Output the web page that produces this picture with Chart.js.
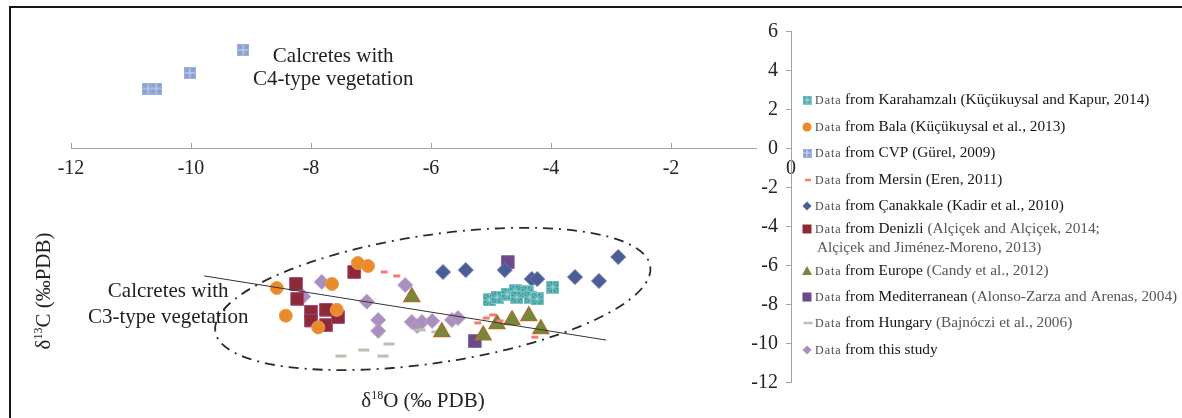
<!DOCTYPE html>
<html>
<head>
<meta charset="utf-8">
<script src="https://cdn.jsdelivr.net/npm/chart.js@4.4.0/dist/chart.umd.min.js"></script>
<style>
  html, body { margin: 0; padding: 0; background: #fff; }
  #wrap { position: relative; width: 1182px; height: 418px; overflow: hidden; }
  #frame { position: absolute; left: 9px; top: 6px; width: 1200px; height: 430px;
           border-left: 2.5px solid #151515; border-top: 2.5px solid #151515; pointer-events: none; }
  canvas { position: absolute; left: 0; top: 0; }
</style>
</head>
<body>
<div id="wrap">
  <canvas id="chart" width="1182" height="418"></canvas>
  <div id="frame"></div>
</div>
<script>
// d18O (x) and d13C (y) values, per source
const karaX = [-5.03, -4.9, -4.73, -4.6, -4.57, -4.4, -4.35, -4.23, -3.97];
const karaY = [-7.79, -7.65, -7.49, -7.33, -7.65, -7.38, -7.65, -7.74, -7.13];
const balaX = [-8.57, -8.42, -7.88, -7.65, -7.57, -7.22, -7.05];
const balaY = [-7.18, -8.6, -9.2, -6.97, -8.3, -5.9, -6.05];
const cvpX = [-10.72, -10.58, -10.02, -9.13];
const cvpY = [3.05, 3.05, 3.85, 5.03];
const mersinX = [-6.78, -6.57, -5.22, -5.08, -4.97, -4.85, -4.27];
const mersinY = [-6.36, -6.56, -8.97, -8.72, -8.56, -8.87, -9.7];
const canakX = [-5.8, -5.42, -4.77, -4.32, -4.23, -3.6, -3.2, -2.88];
const canakY = [-6.36, -6.26, -6.26, -6.72, -6.72, -6.62, -6.82, -5.59];
const denizliX = [-8.25, -8.23, -8.0, -8.0, -7.75, -7.75, -7.55, -7.28];
const denizliY = [-6.97, -7.74, -8.4, -8.85, -8.3, -9.08, -8.67, -6.36];
const europeX = [-6.32, -5.82, -5.13, -4.9, -4.65, -4.37, -4.17];
const europeY = [-7.64, -9.43, -9.6, -9.03, -8.82, -8.62, -9.28];
const mediX = [-4.72, -5.27];
const mediY = [-5.85, -9.9];
const hungX = [-7.5, -7.12, -6.8, -6.7, -6.18, -5.9];
const hungY = [-10.67, -10.36, -10.67, -10.05, -9.33, -9.43];
const studyX = [-7.82, -8.13, -7.07, -6.88, -6.88, -6.43, -6.32, -6.23, -6.15, -5.98, -5.65, -5.55];
const studyY = [-6.87, -7.62, -7.88, -8.82, -9.38, -7.03, -8.92, -9.13, -8.92, -8.87, -8.82, -8.72];

// regression line end points and C3 envelope (centre, end of major axis, minor radius in d13C units)
const trendX = [-9.78, -3.08];
const trendY = [-6.56, -9.85];
const ellipseCenter = [-5.97, -7.74];
const ellipseEnd = [-2.345, -6.07];
const ellipseMinor = 3.28;

const xTicks = [-12, 0, 2];   // min, max, step
const yTicks = [-12, 6, 2];

const legendPlace = ['from Karahamzalı', 'from Bala', 'from CVP', 'from Mersin', 'from Çanakkale',
  'from Denizli', 'from Europe', 'from Mediterranean', 'from Hungary', 'from this study'];
const legendRef = ['(Küçükuysal and Kapur, 2014)', '(Küçükuysal et al., 2013)', '(Gürel, 2009)',
  '(Eren, 2011)', '(Kadir et al., 2010)', '(Alçiçek and Alçiçek, 2014;', '(Candy et al., 2012)',
  '(Alonso-Zarza and Arenas, 2004)', '(Bajnóczi et al., 2006)', ''];
const legendRef2 = 'Alçiçek and Jiménez-Moreno, 2013)';

const SERIF = '"Liberation Serif", "Times New Roman", serif';

function pts(xs, ys) {
  return xs.map((v, i) => ({x: v, y: ys[i]}));
}

function squareImg(size, fill, border, line, pattern) {
  const c = document.createElement('canvas');
  c.width = size; c.height = size;
  const g = c.getContext('2d');
  g.fillStyle = fill;
  g.fillRect(0, 0, size, size);
  g.strokeStyle = line;
  g.lineWidth = 1;
  const m = size / 2;
  g.beginPath();
  g.moveTo(m, 1); g.lineTo(m, size - 1);
  g.moveTo(1, m); g.lineTo(size - 1, m);
  if (pattern === 'star') {
    g.moveTo(2, 2); g.lineTo(size - 2, size - 2);
    g.moveTo(size - 2, 2); g.lineTo(2, size - 2);
  }
  g.stroke();
  g.strokeStyle = border;
  g.strokeRect(0.5, 0.5, size - 1, size - 1);
  return c;
}

const karaImg = squareImg(13, '#3f9fa2', '#86c9c9', '#8fd2d0', 'star');
const karaSmall = squareImg(9, '#3f9fa2', '#86c9c9', '#8fd2d0', 'star');
const cvpImg = squareImg(12, '#8ba1d2', '#9fb2dc', '#d2dcf0', 'plus');
const cvpSmall = squareImg(9, '#8ba1d2', '#9fb2dc', '#d2dcf0', 'plus');

const datasets = [
  {label: 'Karahamzalı', data: pts(karaX, karaY), pointStyle: karaImg, small: karaSmall},
  {label: 'Bala', data: pts(balaX, balaY), pointStyle: 'circle', pointRadius: 6.5,
    backgroundColor: '#e98a2c', borderColor: '#ee9a48', borderWidth: 1},
  {label: 'CVP', data: pts(cvpX, cvpY), pointStyle: cvpImg, small: cvpSmall},
  {label: 'Mersin', data: pts(mersinX, mersinY), pointStyle: 'line', pointRadius: 3.5,
    backgroundColor: '#f07f70', borderColor: '#f07f70', borderWidth: 3},
  {label: 'Çanakkale', data: pts(canakX, canakY), pointStyle: 'rectRot', pointRadius: 7.5,
    backgroundColor: '#4c5c95', borderColor: '#6676ae', borderWidth: 1},
  {label: 'Denizli', data: pts(denizliX, denizliY), pointStyle: 'rect', pointRadius: 9,
    backgroundColor: '#8c2b37', borderColor: '#a5487f', borderWidth: 1},
  {label: 'Europe', data: pts(europeX, europeY), pointStyle: 'triangle', pointRadius: 9,
    backgroundColor: '#728a3a', borderColor: '#a4702c', borderWidth: 1.5},
  {label: 'Mediterranean', data: pts(mediX, mediY), pointStyle: 'rect', pointRadius: 9,
    backgroundColor: '#6a4a88', borderColor: '#8465a2', borderWidth: 1},
  {label: 'Hungary', data: pts(hungX, hungY), pointStyle: 'line', pointRadius: 5.5,
    backgroundColor: '#bcc0ae', borderColor: '#bcc0ae', borderWidth: 3},
  {label: 'this study', data: pts(studyX, studyY), pointStyle: 'rectRot', pointRadius: 7.5,
    backgroundColor: '#a98fbd', borderColor: '#b9a2cb', borderWidth: 1},
  {label: 'trend', type: 'line', data: pts(trendX, trendY), borderColor: '#333', borderWidth: 1,
    pointRadius: 0, showLine: true, fill: false, order: -1}
];

function rich(ctx, parts, x, y) {
  let w = 0;
  parts.forEach(p => { ctx.font = p[1] + 'px ' + SERIF; w += ctx.measureText(p[0]).width; });
  let cx = x - w / 2;
  parts.forEach(p => {
    ctx.font = p[1] + 'px ' + SERIF;
    ctx.fillText(p[0], cx, y - (p[2] || 0));
    cx += ctx.measureText(p[0]).width;
  });
}

function legendMarker(ctx, ds, x, y) {
  const s = ds.pointStyle;
  ctx.save();
  ctx.fillStyle = ds.backgroundColor;
  ctx.strokeStyle = ds.borderColor;
  ctx.lineWidth = 1;
  ctx.beginPath();
  if (typeof s !== 'string') {
    ctx.drawImage(ds.small, x - 4.5, y - 4.5);
  } else if (s === 'circle') {
    ctx.arc(x, y, 4.5, 0, Math.PI * 2); ctx.fill();
  } else if (s === 'rect') {
    ctx.rect(x - 4.5, y - 4.5, 9, 9); ctx.fill();
  } else if (s === 'rectRot') {
    ctx.moveTo(x, y - 4.5); ctx.lineTo(x + 4.5, y); ctx.lineTo(x, y + 4.5); ctx.lineTo(x - 4.5, y);
    ctx.closePath(); ctx.fill();
  } else if (s === 'triangle') {
    ctx.moveTo(x, y - 5); ctx.lineTo(x + 5, y + 4); ctx.lineTo(x - 5, y + 4);
    ctx.closePath(); ctx.fill();
  } else if (s === 'line') {
    const h = ds.pointRadius > 4 ? 4.5 : 3;
    ctx.lineWidth = 2.5;
    ctx.moveTo(x - h + 1, y); ctx.lineTo(x + h + 1, y); ctx.stroke();
  }
  ctx.restore();
}

const decor = {
  id: 'decor',
  beforeDatasetsDraw(chart) {
    const {ctx, scales: {x, y}} = chart;
    const cx = x.getPixelForValue(ellipseCenter[0]), cy = y.getPixelForValue(ellipseCenter[1]);
    const ex = x.getPixelForValue(ellipseEnd[0]), ey = y.getPixelForValue(ellipseEnd[1]);
    const a = Math.hypot(ex - cx, ey - cy);
    const b = Math.abs(y.getPixelForValue(0) - y.getPixelForValue(ellipseMinor));
    ctx.save();
    ctx.strokeStyle = '#2a2a2a';
    ctx.lineWidth = 1.8;
    ctx.setLineDash([10, 6, 2, 6]);
    ctx.beginPath();
    ctx.ellipse(cx, cy, a, b, Math.atan2(ey - cy, ex - cx), 0, Math.PI * 2);
    ctx.stroke();
    ctx.restore();
  },
  afterDraw(chart) {
    const {ctx, scales: {x, y}} = chart;
    const x0 = x.getPixelForValue(0), y0 = y.getPixelForValue(0);
    ctx.save();
    // gap in the x axis around the y-axis "0" label
    ctx.fillStyle = '#fff';
    ctx.fillRect(x0 - 34, y0 - 3, 29, 6);

    // tick marks: up from the x axis, left from the y axis
    ctx.strokeStyle = '#a9a199';
    ctx.lineWidth = 1;
    ctx.beginPath();
    x.ticks.forEach(t => {
      const px = Math.round(x.getPixelForValue(t.value)) + 0.5;
      ctx.moveTo(px, y0); ctx.lineTo(px, y0 - 5);
    });
    y.ticks.forEach(t => {
      const py = Math.round(y.getPixelForValue(t.value)) + 0.5;
      ctx.moveTo(x0, py); ctx.lineTo(x0 - 5, py);
    });
    ctx.stroke();

    // y tick labels, left of the axis
    ctx.fillStyle = '#222';
    ctx.font = '20px ' + SERIF;
    ctx.textAlign = 'right';
    ctx.textBaseline = 'middle';
    y.ticks.forEach(t => {
      ctx.fillText(t.label, x0 - 13, y.getPixelForValue(t.value) + 1);
    });

    // annotations
    ctx.textAlign = 'center';
    ctx.font = '21px ' + SERIF;
    ctx.fillText('Calcretes with', x.getPixelForValue(-7.63), y.getPixelForValue(4.67));
    ctx.fillText('C4-type vegetation', x.getPixelForValue(-7.63), y.getPixelForValue(3.49));
    ctx.fillText('Calcretes with', x.getPixelForValue(-10.38), y.getPixelForValue(-7.38));
    ctx.fillText('C3-type vegetation', x.getPixelForValue(-10.38), y.getPixelForValue(-8.67));

    // axis titles
    ctx.textAlign = 'left';
    ctx.textBaseline = 'alphabetic';
    rich(ctx, [['δ', 21], ['18', 12, 8], ['O (‰ PDB)', 21]], 423, 407);
    ctx.translate(43, 291);
    ctx.rotate(-Math.PI / 2);
    rich(ctx, [['δ', 21], ['13', 12, 8], ['C (‰PDB)', 21]], 0, 7);
    ctx.restore();

    // legend
    const rowY = [100, 127, 153, 180, 206, 229, 271, 297, 323, 350];
    ctx.save();
    ctx.textBaseline = 'middle';
    ctx.textAlign = 'left';
    legendPlace.forEach((name, i) => {
      const yy = rowY[i];
      legendMarker(ctx, datasets[i], 807, yy);
      ctx.font = '12px ' + SERIF;
      ctx.letterSpacing = '1px';
      ctx.fillStyle = '#4a4a4a';
      ctx.fillText('Data', 815, yy + 1);
      ctx.letterSpacing = '0px';
      ctx.font = '15.3px ' + SERIF;
      ctx.fillStyle = '#151515';
      ctx.fillText(name, 845, yy);
      const w = ctx.measureText(name + ' ').width;
      ctx.fillStyle = i < 5 ? '#151515' : '#555';
      ctx.fillText(legendRef[i], 845 + w, yy);
      if (i === 5) ctx.fillText(legendRef2, 817, yy + 19);
    });
    ctx.restore();
  }
};

const axisColor = '#a9a199';
new Chart(document.getElementById('chart'), {
  type: 'scatter',
  data: {datasets: datasets},
  options: {
    responsive: false,
    animation: false,
    events: [],
    layout: {padding: {left: 71, right: 391, top: 31, bottom: 36}},
    plugins: {legend: {display: false}, tooltip: {enabled: false}},
    scales: {
      x: {
        type: 'linear', position: {y: 0},
        min: xTicks[0], max: xTicks[1],
        ticks: {stepSize: xTicks[2], padding: 1, color: '#222', font: {family: SERIF, size: 20}},
        grid: {display: false},
        border: {color: axisColor, width: 1}
      },
      y: {
        type: 'linear', position: {x: 0},
        min: yTicks[0], max: yTicks[1],
        ticks: {stepSize: yTicks[2], display: false},
        grid: {display: false},
        border: {color: axisColor, width: 1}
      }
    }
  },
  plugins: [decor]
});
</script>
</body>
</html>
